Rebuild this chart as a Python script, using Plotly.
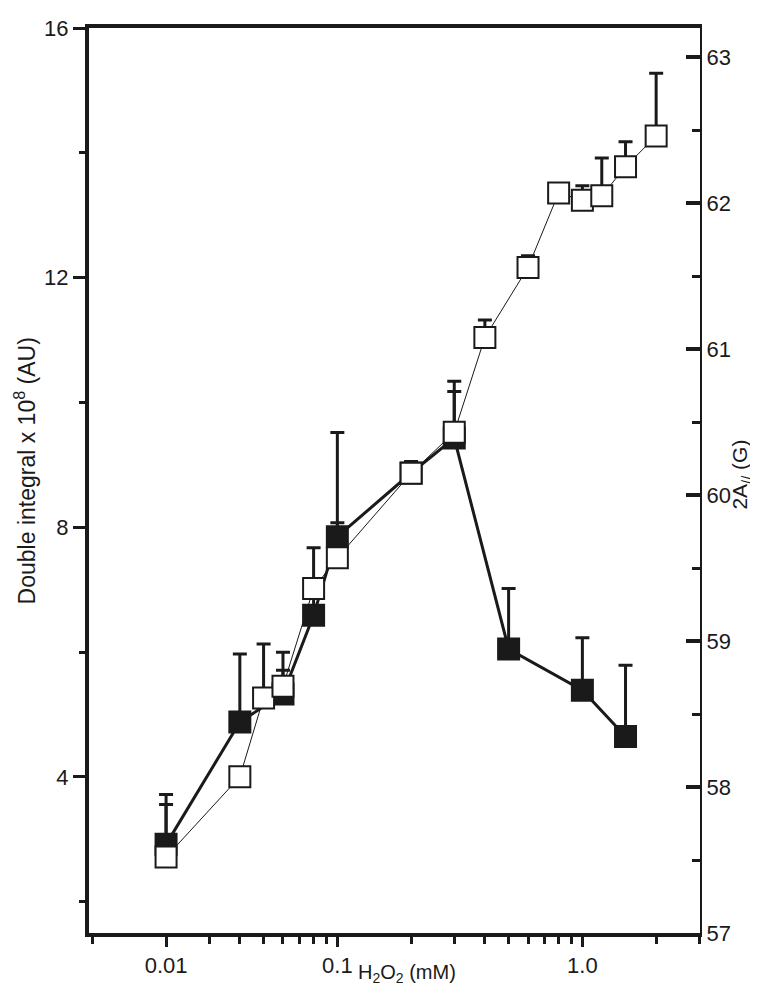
import plotly.graph_objects as go

# H2O2 concentration (mM), filled squares -> double integral (left axis)
conc_filled = [0.02, 0.04, 0.06, 0.08, 0.1, 0.2, 0.3, 0.5, 1.0, 1.5]
dbl_integral = [2.92, 4.88, 5.33, 6.59, 7.85, 8.87, 9.43, 6.05, 5.39, 4.65]
dbl_err = [0.80, 1.09, 0.67, 0.40, 1.67, 0.10, 0.91, 0.97, 0.84, 1.14]

# open squares -> 2A// (right axis)
conc_open = [0.02, 0.04, 0.05, 0.06, 0.08, 0.1, 0.2, 0.3, 0.4, 0.6, 0.8, 1.0, 1.2, 1.5, 2.0]
a_par = [57.52, 58.07, 58.61, 58.69, 59.36, 59.57, 60.15, 60.43, 61.08, 61.56, 62.07, 62.02, 62.05, 62.25, 62.46]
a_err = [0.36, 0.05, 0.37, 0.11, 0.28, 0.24, 0.08, 0.28, 0.12, 0.08, 0.05, 0.10, 0.26, 0.17, 0.43]

x_tickvals = [0.02, 0.1, 1.0]
x_ticktext = ["0.01", "0.1", "1.0"]
x_minor = [0.01, 0.03, 0.04, 0.05, 0.06, 0.07, 0.08, 0.09,
           0.2, 0.3, 0.4, 0.5, 0.6, 0.7, 0.8, 0.9, 2.0, 3.0]
y_ticks = [4, 8, 12, 16]
y_minor = [2, 6, 10, 14]
y2_ticks = [57, 58, 59, 60, 61, 62, 63]
y2_minor = [57.5, 58.5, 59.5, 60.5, 61.5, 62.5]

FONT = "Liberation Sans, Arial, sans-serif"
BLK = "#1a1a1a"


def up_err(vals):
    return dict(type="data", array=vals, arrayminus=[0] * len(vals), symmetric=False,
                thickness=3, width=7, color=BLK)


fig = go.Figure()

# error bars first so the squares sit on top
fig.add_trace(go.Scatter(x=conc_filled, y=dbl_integral, mode="markers",
                         marker=dict(size=2, opacity=0), error_y=up_err(dbl_err),
                         hoverinfo="skip", showlegend=False))
fig.add_trace(go.Scatter(x=conc_filled, y=dbl_integral, mode="lines+markers",
                         line=dict(color=BLK, width=3),
                         marker=dict(symbol="square", size=21, color=BLK, line=dict(color=BLK, width=2)),
                         name="Double integral", showlegend=False))

fig.add_trace(go.Scatter(x=conc_open, y=a_par, mode="markers", yaxis="y2",
                         marker=dict(size=2, opacity=0), error_y=up_err(a_err),
                         hoverinfo="skip", showlegend=False))
fig.add_trace(go.Scatter(x=conc_open, y=a_par, mode="lines+markers", yaxis="y2",
                         line=dict(color=BLK, width=1),
                         marker=dict(symbol="square", size=21, color="white", line=dict(color=BLK, width=2)),
                         name="2A//", showlegend=False))

fig.update_layout(
    width=758, height=986,
    margin=dict(l=81, r=66, t=8, b=61),
    paper_bgcolor="white", plot_bgcolor="white",
    font=dict(family=FONT, color=BLK, size=22),
    xaxis=dict(type="log", range=[-2.0135, 0.480], showgrid=False, zeroline=False,
               showline=True, linewidth=4, linecolor=BLK, mirror=True,
               ticks="outside", ticklen=10, tickwidth=3, tickcolor=BLK,
               tickmode="array", tickvals=x_tickvals, ticktext=x_ticktext,
               tickfont=dict(size=22),
               minor=dict(tickmode="array", tickvals=x_minor, ticks="outside",
                          ticklen=7, tickwidth=3, tickcolor=BLK, showgrid=False)),
    yaxis=dict(range=[1.5, 16], showgrid=False, zeroline=False,
               showline=True, linewidth=4, linecolor=BLK,
               ticks="outside", ticklen=12, tickwidth=3, tickcolor=BLK,
               tickmode="array", tickvals=y_ticks, tickfont=dict(size=22),
               ticklabeloverflow="allow",
               minor=dict(tickmode="array", tickvals=y_minor, ticks="outside",
                          ticklen=6, tickwidth=3, tickcolor=BLK, showgrid=False)),
    yaxis2=dict(range=[57, 63.2], overlaying="y", side="right", showgrid=False, zeroline=False,
                showline=True, linewidth=2, linecolor=BLK,
                ticks="inside", ticklen=14, tickwidth=3.5, tickcolor=BLK,
                tickmode="array", tickvals=y2_ticks, tickfont=dict(size=22),
                ticklabeloverflow="allow",
                minor=dict(tickmode="array", tickvals=y2_minor, ticks="inside",
                           ticklen=8, tickwidth=3, tickcolor=BLK, showgrid=False)),
)

fig.add_annotation(text="H<sub>2</sub>O<sub>2</sub> (mM)", xref="paper", yref="paper",
                   x=0.521, y=-0.045, xanchor="center", yanchor="middle",
                   showarrow=False, font=dict(size=20))
fig.add_annotation(text="Double integral x 10<sup>8</sup> (AU)", xref="paper", yref="paper",
                   x=-0.105, y=0.511, xanchor="center", yanchor="middle", textangle=-90,
                   showarrow=False, font=dict(size=23))
fig.add_annotation(text="2A<sub>//</sub> (G)", xref="paper", yref="paper",
                   x=1.068, y=0.506, xanchor="center", yanchor="middle", textangle=-90,
                   showarrow=False, font=dict(size=21))

fig.write_html("out.html")
